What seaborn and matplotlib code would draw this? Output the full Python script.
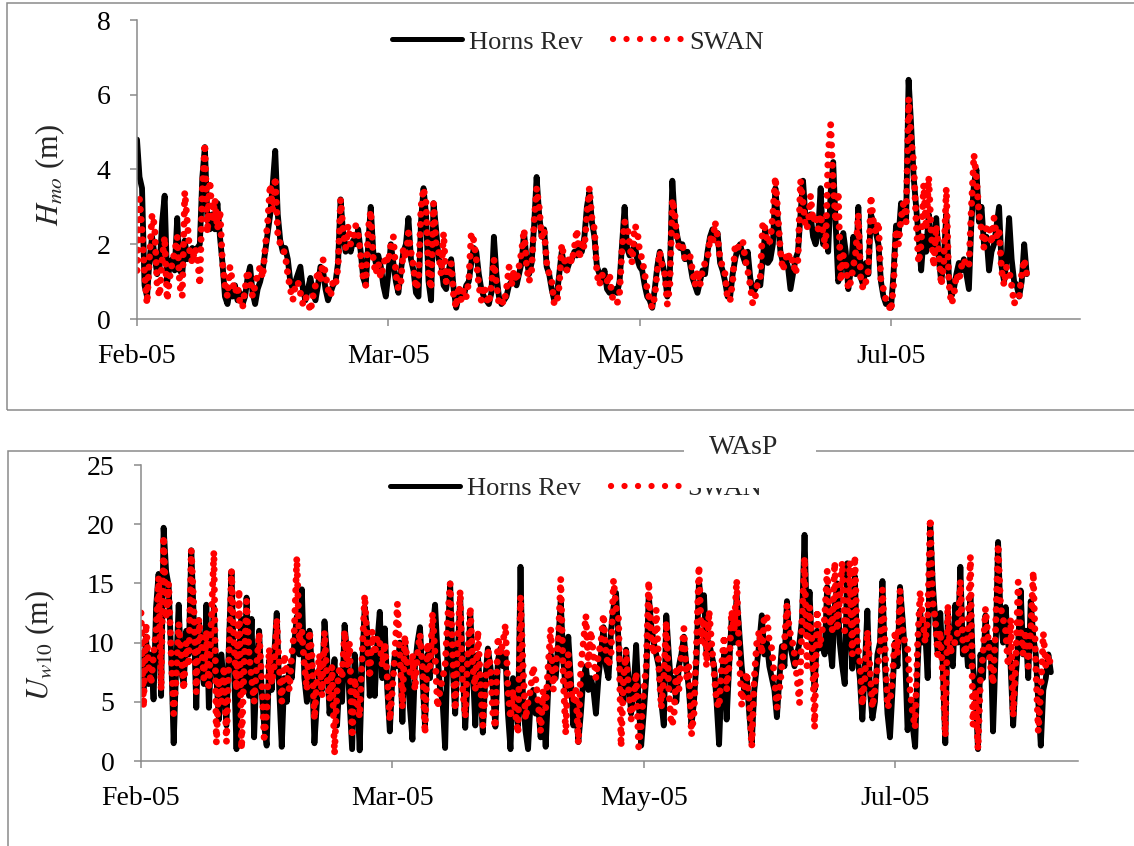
import numpy as np
import pandas as pd
import seaborn as sns
import matplotlib.pyplot as plt
import matplotlib.dates as mdates
from matplotlib.patches import Rectangle
from matplotlib.lines import Line2D

# Hmo (m), one value every 12 h from 1 Feb 2005
hmo_hornsrev = [
    4.8, 3.8, 3.5, 0.9, 0.6, 1.6, 2.2, 1.7, 1.2, 1.4,
    2.6, 3.3, 1.0, 1.4, 1.6, 1.3, 2.7, 1.3, 1.2, 2.1,
    1.6, 1.8, 1.9, 1.8, 1.9, 2.0, 3.8, 4.6, 2.7, 2.4,
    2.8, 2.4, 3.1, 2.2, 1.5, 0.6, 0.4, 0.8, 0.6, 0.9,
    0.5, 0.7, 0.4, 0.6, 1.1, 1.4, 0.7, 0.4, 0.8, 1.0,
    1.3, 1.8, 2.3, 2.8, 3.6, 4.5, 2.8, 2.1, 1.8, 1.9,
    1.6, 1.0, 0.8, 1.0, 1.2, 1.4, 0.8, 0.5, 0.8, 1.1,
    0.7, 0.5, 0.9, 1.4, 1.3, 0.8, 0.5, 0.7, 0.9, 1.0,
    1.5, 3.2, 2.3, 1.8, 2.0, 1.8, 2.1, 2.0, 2.4, 1.8,
    1.1, 0.9, 2.0, 3.0, 1.8, 1.5, 1.7, 1.4, 0.9, 0.6,
    1.2, 2.0, 1.5, 1.0, 0.7, 1.3, 1.8, 2.0, 2.7, 1.6,
    1.3, 0.7, 0.6, 2.6, 3.5, 2.8, 1.0, 0.5, 3.1, 2.4,
    1.6, 1.5, 0.9, 0.8, 1.3, 1.6, 0.8, 0.3, 0.6, 0.7,
    0.6, 0.9, 1.0, 1.5, 1.9, 1.8, 1.2, 0.8, 0.6, 0.5,
    0.4, 0.7, 2.2, 1.2, 0.6, 0.4, 0.5, 0.6, 0.9, 1.0,
    1.1, 0.9, 1.2, 1.5, 2.3, 1.6, 1.2, 1.5, 2.5, 3.8,
    2.8, 2.2, 2.4, 1.4, 1.2, 0.8, 0.5, 0.6, 1.2, 1.8,
    1.4, 1.3, 1.5, 1.6, 1.8, 1.7, 2.0, 1.8, 2.2, 3.0,
    3.4, 2.6, 2.2, 1.4, 1.2, 1.0, 1.3, 0.8, 0.7, 0.7,
    0.8, 0.7, 1.0, 2.0, 3.0, 1.9, 1.7, 1.8, 2.0, 1.6,
    1.4, 1.3, 0.9, 0.6, 0.5, 0.3, 0.8, 1.4, 1.8, 1.5,
    1.2, 0.6, 1.2, 3.7, 2.6, 2.2, 1.9, 2.0, 1.6, 1.8,
    1.5, 1.1, 0.9, 0.7, 1.0, 1.3, 1.2, 1.8, 2.2, 2.4,
    2.1, 2.3, 1.5, 1.3, 1.0, 0.6, 0.6, 1.2, 1.6, 1.9,
    2.0, 1.7, 1.5, 1.8, 1.1, 0.7, 0.8, 1.0, 0.9, 1.6,
    2.4, 1.5, 1.6, 2.0, 3.5, 2.6, 1.8, 1.5, 1.6, 1.4,
    0.8, 1.2, 1.6, 1.8, 2.8, 3.7, 2.7, 2.5, 2.8, 2.2,
    2.0, 2.3, 3.5, 2.0, 2.6, 1.8, 3.4, 4.2, 2.5, 1.0,
    1.2, 2.3, 1.8, 0.8, 1.3, 2.2, 1.2, 3.0, 1.1, 0.9,
    1.5, 1.2, 2.8, 2.6, 2.3, 2.0, 1.0, 0.6, 0.4, 0.4,
    0.3, 1.2, 2.5, 2.2, 3.1, 2.8, 2.6, 6.4, 5.2, 3.8,
    3.0, 2.2, 1.3, 2.2, 1.8, 2.8, 2.0, 1.8, 2.7, 1.6,
    1.0, 1.6, 2.8, 1.2, 0.6, 0.8, 1.2, 1.5, 1.3, 1.6,
    1.2, 0.8, 2.6, 3.6, 4.0, 2.6, 3.0, 2.0, 2.2, 1.3,
    1.8, 2.0, 2.5, 3.0, 1.4, 1.0, 1.6, 2.7, 1.6, 1.0,
    0.9, 0.6, 1.0, 2.0, 1.2,
]
hmo_swan = [
    1.3, 3.2, 2.4, 1.2, 0.4, 1.7, 2.8, 2.5, 0.9, 0.6,
    1.6, 2.2, 0.5, 1.1, 1.5, 1.8, 2.2, 0.9, 0.6, 3.4,
    2.6, 1.8, 1.5, 1.9, 1.7, 0.9, 3.5, 4.7, 2.3, 3.7,
    2.6, 3.2, 2.4, 2.9, 1.5, 0.9, 0.6, 1.4, 1.0, 0.7,
    0.9, 0.4, 0.3, 0.8, 1.3, 1.0, 0.6, 0.9, 1.2, 1.4,
    1.1, 1.9, 2.6, 3.6, 2.9, 3.8, 2.3, 2.0, 1.9, 1.7,
    1.2, 0.8, 0.5, 0.9, 1.0, 0.7, 0.4, 0.6, 0.5, 0.2,
    0.6, 0.9, 1.3, 1.0, 1.6, 1.2, 0.8, 0.6, 1.0, 0.9,
    1.4, 3.2, 2.4, 1.9, 2.5, 2.0, 2.1, 2.5, 2.3, 1.7,
    1.1, 0.9, 2.4, 2.9, 1.6, 1.2, 1.5, 1.1, 1.4, 1.7,
    1.5, 2.0, 2.2, 1.2, 0.8, 1.0, 1.9, 1.6, 2.3, 1.8,
    1.4, 0.8, 1.0, 3.0, 3.5, 3.1, 1.2, 0.8, 3.1, 2.0,
    1.8, 1.2, 2.3, 1.0, 1.2, 1.5, 0.6, 0.3, 0.9, 0.5,
    0.8, 0.6, 1.0, 2.3, 2.1, 1.6, 0.9, 0.5, 0.9, 0.6,
    0.4, 0.9, 1.6, 1.0, 0.4, 0.5, 0.4, 0.8, 1.4, 0.9,
    1.3, 1.0, 1.4, 1.8, 2.4, 1.4, 1.0, 1.3, 2.6, 3.5,
    3.0, 2.2, 2.4, 1.5, 1.2, 1.0, 0.4, 0.4, 0.9, 2.0,
    1.6, 1.3, 1.7, 1.5, 1.9, 2.4, 1.6, 2.1, 1.9, 2.8,
    3.5, 2.7, 2.4, 1.2, 0.9, 1.2, 1.0, 1.0, 1.2, 0.6,
    0.5, 0.4, 0.7, 1.9, 2.6, 2.5, 2.0, 1.5, 2.5, 2.4,
    1.8, 1.6, 1.2, 0.8, 0.5, 0.3, 0.6, 1.3, 1.8, 1.4,
    1.2, 0.4, 0.9, 3.2, 2.8, 2.0, 1.9, 2.0, 1.6, 1.6,
    1.7, 1.3, 0.9, 1.3, 0.9, 1.3, 1.5, 1.6, 2.2, 2.0,
    2.6, 2.2, 1.6, 1.4, 1.2, 0.5, 0.5, 1.0, 2.0, 1.9,
    2.0, 2.1, 1.6, 1.3, 0.9, 0.4, 0.6, 1.0, 1.1, 2.6,
    2.4, 2.0, 2.1, 2.8, 3.8, 2.8, 1.8, 1.3, 1.6, 1.8,
    1.5, 1.6, 1.2, 1.6, 3.7, 3.1, 2.4, 2.5, 3.3, 2.6,
    2.8, 2.4, 2.8, 2.3, 1.9, 4.4, 5.2, 3.6, 2.6, 3.4,
    1.0, 1.7, 1.5, 0.8, 1.0, 1.4, 1.8, 2.8, 1.0, 0.8,
    1.0, 1.3, 3.3, 2.6, 2.3, 2.6, 1.0, 0.8, 0.5, 0.4,
    0.2, 0.9, 2.4, 2.0, 2.7, 3.1, 2.6, 5.9, 4.8, 4.2,
    2.6, 1.5, 2.0, 3.6, 2.4, 3.8, 2.3, 1.4, 2.5, 1.8,
    0.9, 1.5, 3.5, 1.0, 0.4, 0.6, 1.2, 1.0, 1.4, 1.6,
    1.4, 1.4, 3.0, 4.4, 3.8, 2.8, 2.4, 1.9, 2.5, 2.5,
    2.0, 2.7, 2.2, 2.4, 1.3, 0.9, 1.4, 1.3, 0.9, 0.4,
    0.6, 0.6, 1.2, 1.6, 1.2,
]

# Uw10 (m), one value every 12 h from 1 Feb 2005
u10_hornsrev = [
    9, 6, 10.5, 6.5, 9, 5.2, 13, 15.8, 5.5, 19.7,
    16, 14.8, 9, 1.5, 8, 13.2, 7.5, 6.5, 11, 9,
    17.8, 12, 4.5, 11.9, 8, 6.5, 13.2, 4.5, 9, 13,
    7, 3.5, 9, 6, 3, 10, 16, 8, 1.0, 9,
    12, 6, 13.8, 5.5, 12, 2, 8, 11, 6, 3,
    1.3, 8.5, 6, 9, 12.5, 6, 1.2, 7, 5, 8,
    7, 10, 12.2, 9, 14.5, 7, 5, 11, 8, 1.5,
    5, 7.8, 6, 11.8, 9, 4, 6, 8.6, 3, 7,
    5, 11.5, 9, 5, 1.0, 9, 6, 0.9, 8, 13,
    11, 5.5, 9, 5.5, 10, 12.6, 7, 11.2, 6, 2.5,
    7, 9, 8, 10, 3.3, 10, 8, 4.5, 1.8, 8,
    10, 11.3, 7, 3, 9, 7, 11, 13.2, 9, 6,
    5, 1.1, 10, 15, 8, 4, 9, 13.8, 8, 2.8,
    7, 12.5, 8, 3, 9, 6, 2.4, 7, 9.5, 8,
    6, 2.9, 8.5, 9.5, 8, 9, 4, 1.0, 7, 5,
    3, 16.4, 5, 2.5, 1.0, 5, 6, 4, 5, 2,
    5, 1.2, 6, 9, 8, 7, 10, 13.5, 8.5, 6,
    10.5, 7, 3, 5, 1.6, 4, 7, 8, 6, 7,
    6, 4, 7, 9, 11.3, 8, 7, 11, 13, 14.2,
    10, 6, 5, 9.4, 7, 4, 6, 9.8, 5, 1.3,
    4, 7, 14, 11.5, 10, 9, 8, 5, 3, 12.3,
    9, 6, 7, 5, 8, 9, 10.5, 8, 6, 3,
    5, 8.5, 15.2, 13, 14, 9, 10, 9, 8, 5,
    1.4, 7, 9, 3.5, 8, 12, 10, 14, 11, 8,
    6, 7, 4, 1.5, 6, 8, 10, 12.3, 9, 10,
    8, 7, 6, 3.7, 7, 9.7, 8, 13.5, 10, 9,
    8, 9, 10, 12, 19.1, 11, 14.3, 9, 6, 11,
    9.5, 10, 9, 14.7, 10, 8, 13, 15, 10, 8,
    6.5, 16.7, 12, 7.8, 15.6, 9, 7, 3.5, 8, 12.7,
    6, 3.6, 5, 9, 10, 15.2, 8, 4, 2, 6,
    10, 8, 14.7, 12, 9, 2.6, 5, 3, 1.2, 8,
    12.7, 10, 11, 7, 20, 15, 12, 9, 12.5, 8,
    1.5, 12.5, 9, 8, 13.2, 10, 16.4, 9, 11, 8,
    14, 8, 6, 1.0, 9, 7, 12.3, 9, 10, 2.5,
    9, 18.5, 12, 10, 13, 10, 8, 3, 7, 10,
    14.4, 9, 11, 7, 13.5, 10.5, 9, 5, 1.3, 6,
    7, 9, 7.5,
]
u10_swan = [
    12.5, 4.5, 11.6, 8, 6.5, 9, 11, 15.5, 6, 19,
    12, 15, 9, 4, 7, 11.6, 9, 6, 10, 8,
    17.8, 13, 5.8, 12, 10, 7, 11, 6, 12, 17.7,
    1.5, 7, 5, 8, 1.6, 9, 16.1, 10, 6, 14.5,
    1.0, 8, 13.5, 9, 7, 5, 8, 10.8, 7, 2,
    4, 9.5, 6.5, 8, 12, 8, 5, 9, 7.5, 6,
    9, 11, 17.2, 10, 11, 8, 6, 11, 9, 3.5,
    7, 9, 5.5, 10.9, 7, 5.2, 8, 0.6, 6, 8,
    7, 11, 8, 10, 2, 7, 5, 3.7, 9, 14,
    10, 7, 11, 9, 10.5, 10, 8, 10, 7, 3.4,
    6, 9, 13.3, 9, 4.5, 10.6, 8, 7.5, 9, 6,
    9, 10.7, 8, 2.3, 10, 8, 12.5, 9, 4.5, 6,
    7, 8, 12, 15, 9, 4.3, 10, 14.4, 6, 3.7,
    9, 13, 8, 6, 11, 7, 3, 6, 9.5, 8,
    4, 2.8, 10.5, 9, 10, 11.5, 6, 3.6, 6, 4,
    2.3, 13.9, 8, 3.5, 5, 6, 8, 7, 5, 2.5,
    6, 4.5, 8, 11.2, 6, 8, 10, 15.4, 7, 2.3,
    9, 6, 5, 6, 1.5, 8, 10, 12.3, 8, 11,
    9, 7, 9, 10, 12.4, 9, 8, 9, 15.3, 13,
    12, 1.2, 7, 9.3, 6, 3.5, 5, 7.5, 1.2, 3,
    6, 8, 15.2, 10, 9, 12.8, 8, 4.5, 7, 11.8,
    6, 3, 3.5, 8, 6, 9, 11.2, 7, 8, 2.2,
    4, 9.7, 16.5, 10, 12, 8, 12.7, 10, 7.5, 5,
    4.5, 8, 10.6, 6, 8, 12.7, 11, 15.3, 9, 4.7,
    6, 7.5, 5, 1.2, 7, 10, 11, 9, 12.3, 12.3,
    10, 9.5, 7, 4.5, 6, 8, 10, 13.2, 11, 10.3,
    9, 7, 4.9, 12, 17.2, 8, 13, 10, 2.8, 12.8,
    9.6, 11, 12, 16.1, 12, 11, 16.8, 11, 14, 16.8,
    11, 12, 16.8, 9, 17.3, 10, 8.4, 4.7, 7, 11,
    8, 4.5, 6, 8, 9, 14.5, 10, 4.5, 5, 7,
    11, 9, 14.4, 11, 10, 9.6, 6, 4, 2.8, 10,
    14.3, 12, 10, 12, 20.5, 13.5, 12, 9, 11, 7,
    2.1, 13.2, 9, 10, 10, 11, 15.2, 10, 9, 11,
    17.3, 3, 6, 1.0, 7, 9, 12.9, 10.5, 8, 6.5,
    11, 18.3, 13, 12, 11, 8, 12, 3.8, 8, 15.1,
    11, 9, 11, 8, 11, 16, 8, 2.5, 6, 10.8,
    8, 9, 8,
]

series_names = ['Horns Rev', 'SWAN']
tick_dates = ['2005-02-01', '2005-03-23', '2005-05-12', '2005-07-01']

sns.set_theme(style='white')
plt.rcParams['font.family'] = ['Liberation Serif', 'DejaVu Serif']
plt.rcParams['mathtext.fontset'] = 'stix'

W, H = 1134, 846
fig = plt.figure(figsize=(W / 100, H / 100), dpi=100)
gray = '#8a8a8a'


def px_rect(x0, y0, x1, y1):
    # pixel box, origin top-left -> figure fraction [l, b, w, h]
    return [x0 / W, 1 - y1 / H, (x1 - x0) / W, (y1 - y0) / H]


# chart frames
fig.add_artist(Rectangle((7 / W, 1 - 410 / H), 1200 / W, 407 / H, transform=fig.transFigure,
                         fill=False, ec=gray, lw=1.1, zorder=0))
fig.add_artist(Rectangle((8 / W, -0.2), 1200 / W, 0.2 + 1 - 451 / H, transform=fig.transFigure,
                         fill=False, ec=gray, lw=1.1, zorder=0))

ax1 = fig.add_axes(px_rect(137, 20, 1080, 319))
ax2 = fig.add_axes(px_rect(141, 465, 1078, 761))

panels = [
    # ax, horns rev, swan, ymax, ystep, ylabel, xmax days, label x, label y, legend centre px
    (ax1, hmo_hornsrev, hmo_swan, 8, 2, r'$H_{mo}$ (m)', 187.6, -0.074, 0.48, (578, 42)),
    (ax2, u10_hornsrev, u10_swan, 25, 5, r'$U_{\mathit{w10}}$ (m)', 186.4, -0.090, 0.39, (576, 488)),
]

# legend keys (the dotted key has wider dot spacing than the plotted series)
key_hr = Line2D([], [], color='black', lw=3.6)
key_swan = Line2D([], [], color='red', lw=4.5, linestyle=(0, (0.01, 2.15)),
                  dash_capstyle='round')

start = pd.Timestamp('2005-02-01')
for ax, hr, sw, ymax, ystep, ylab, xmax, lx, ly, (cx, cy) in panels:
    df = pd.DataFrame({'time': pd.date_range(start, periods=len(hr), freq='12h'),
                       'hr': hr, 'swan': sw})
    sns.lineplot(data=df, x='time', y='hr', ax=ax, color='black', lw=4.2,
                 estimator=None, errorbar=None, legend=False)
    sns.lineplot(data=df, x='time', y='swan', ax=ax, color='red', lw=5.0,
                 linestyle=(0, (0.01, 1.45)), dash_capstyle='round',
                 estimator=None, errorbar=None, legend=False)

    ax.set_xlim(start, start + pd.Timedelta(days=xmax))
    ax.set_ylim(0, ymax)
    ax.set_yticks(np.arange(0, ymax + 1, ystep))
    ax.set_xticks(pd.to_datetime(tick_dates))
    ax.xaxis.set_major_formatter(mdates.DateFormatter('%b-%y'))
    ax.set_xlabel('')
    ax.set_ylabel(ylab, fontsize=22)
    ax.yaxis.set_label_coords(lx, ly)

    ax.set_facecolor('none')
    sns.despine(ax=ax)
    for s in ('left', 'bottom'):
        ax.spines[s].set_color(gray)
        ax.spines[s].set_linewidth(1.1)
    ax.tick_params(axis='x', bottom=True, length=5, width=1.1, color=gray,
                   labelsize=20, pad=13, labelcolor='black')
    ax.tick_params(axis='y', left=True, length=5, width=1.1, color=gray,
                   labelsize=20, pad=14, labelcolor='black')

    ax.legend(handles=[key_hr, key_swan], labels=series_names, loc='center',
              bbox_to_anchor=(cx / W, 1 - cy / H), bbox_transform=fig.transFigure,
              ncol=2, frameon=False, fontsize=19, handlelength=2.65,
              handletextpad=0.25, columnspacing=1.15)

# title of the lower chart sits in a white box over the frame and the legend
fig.add_artist(Rectangle((684 / W, 1 - 488 / H), 132 / W, 72 / H, transform=fig.transFigure,
                         fc='white', ec='none', zorder=5))
fig.text(744 / W, 1 - 447 / H, 'WAsP', ha='center', va='center', fontsize=20, zorder=6)

fig.savefig('out.png', dpi=100)
